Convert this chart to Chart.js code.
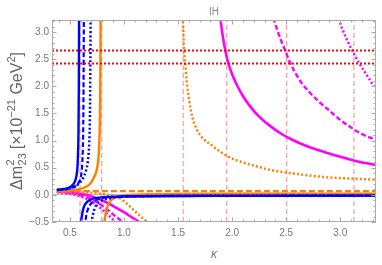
<!DOCTYPE html>
<html>
<head>
<meta charset="utf-8">
<script src="https://cdn.jsdelivr.net/npm/chart.js@4.4.1/dist/chart.umd.min.js"></script>
<style>
  html, body { margin: 0; padding: 0; background: #fff; }
  #wrap { width: 382px; height: 265px; }
</style>
</head>
<body>
<div id="wrap"><canvas id="chart" width="382" height="265"></canvas></div>
<script>
(function () {
  'use strict';

  const X_MIN = 0.335, X_MAX = 3.33, Y_MIN = -0.5, Y_MAX = 3.22;
  const xTicks = [0.5, 1.0, 1.5, 2.0, 2.5, 3.0];
  const yTicks = [-0.5, 0.0, 0.5, 1.0, 1.5, 2.0, 2.5, 3.0];
  const redLevels = [2.42, 2.66];
  const pinkKappas = [0.594, 0.794, 1.548, 1.95, 2.504, 3.126];

  // curves as [kappa, value] pairs
  const blueSolidUp = [[0.38,0.09],[0.45,0.11],[0.50,0.14],[0.53,0.19],[0.55,0.26],[0.56,0.34],[0.57,0.50],[0.575,0.72],[0.58,1.2],[0.583,2.0],[0.586,3.6]];
  const blueSolidLow = [[0.600,-0.6],[0.604,-0.5],[0.615,-0.34],[0.63,-0.22],[0.66,-0.13],[0.70,-0.08],[0.75,-0.055],[0.80,-0.045],[0.90,-0.035],[1.0,-0.03],[1.5,-0.02],[2.0,-0.018],[3.33,-0.015]];
  const blueDashedUp = [[0.38,0.09],[0.45,0.10],[0.50,0.12],[0.55,0.16],[0.58,0.22],[0.60,0.32],[0.61,0.45],[0.615,0.6],[0.62,0.85],[0.624,1.3],[0.627,2.2],[0.63,3.6]];
  const blueDashedLow = [[0.638,-0.6],[0.643,-0.5],[0.655,-0.35],[0.67,-0.25],[0.70,-0.15],[0.75,-0.09],[0.80,-0.06],[0.90,-0.04],[1.0,-0.03],[1.5,-0.02],[3.33,-0.015]];
  const blueDottedUp = [[0.38,0.09],[0.45,0.10],[0.50,0.12],[0.55,0.15],[0.58,0.20],[0.62,0.30],[0.65,0.45],[0.665,0.6],[0.675,0.8],[0.682,1.1],[0.687,1.7],[0.690,2.6],[0.693,3.6]];
  const blueDottedLow = [[0.697,-0.6],[0.702,-0.5],[0.715,-0.35],[0.73,-0.25],[0.76,-0.15],[0.80,-0.10],[0.85,-0.07],[0.90,-0.05],[1.0,-0.035],[1.5,-0.02],[3.33,-0.015]];

  const orangeSolidUp = [[0.38,0.07],[0.50,0.08],[0.60,0.11],[0.65,0.15],[0.68,0.19],[0.70,0.24],[0.72,0.31],[0.74,0.40],[0.755,0.52],[0.765,0.70],[0.772,0.95],[0.778,1.4],[0.782,2.2],[0.785,3.6]];
  const orangeSolidLow = [[0.815,-0.6],[0.82,-0.5],[0.83,-0.35],[0.85,-0.2],[0.88,-0.1],[0.92,-0.05],[0.97,-0.02],[1.05,0.0],[1.2,0.01],[1.5,0.015],[2.0,0.02],[3.33,0.02]];
  const orangeDashed = [[0.38,0.07],[1.0,0.07],[2.0,0.07],[3.33,0.07]];
  const orangeDottedUp = [[1.54,3.5],[1.545,3.22],[1.556,2.66],[1.567,2.42],[1.58,2.1],[1.60,1.78],[1.63,1.45],[1.67,1.22],[1.72,1.06],[1.80,0.93],[1.88,0.81],[1.95,0.72],[2.05,0.63],[2.2,0.54],[2.35,0.46],[2.5,0.41],[2.7,0.36],[2.9,0.32],[3.1,0.30],[3.33,0.28]];
  const orangeDottedLow = [[0.38,0.06],[0.60,0.05],[0.75,0.03],[0.85,0.0],[0.92,-0.03],[0.96,-0.06],[1.02,-0.15],[1.09,-0.28],[1.15,-0.39],[1.21,-0.5],[1.23,-0.55]];

  const magentaSolidUp = [[1.885,3.35],[1.895,3.2],[1.91,2.97],[1.935,2.68],[1.96,2.46],[2.0,2.22],[2.05,2.0],[2.1,1.82],[2.17,1.62],[2.25,1.44],[2.35,1.27],[2.45,1.13],[2.55,1.02],[2.7,0.89],[2.85,0.79],[3.0,0.70],[3.15,0.62],[3.33,0.55]];
  const magentaSolidLow = [[0.38,0.07],[0.55,0.04],[0.65,0.0],[0.75,-0.06],[0.85,-0.15],[0.93,-0.24],[1.0,-0.32],[1.07,-0.41],[1.14,-0.5],[1.17,-0.55]];
  const magentaDashedUp = [[2.375,3.4],[2.39,3.22],[2.42,3.02],[2.455,2.83],[2.49,2.66],[2.53,2.46],[2.58,2.26],[2.65,2.04],[2.72,1.88],[2.8,1.72],[2.9,1.55],[3.0,1.38],[3.1,1.24],[3.2,1.12],[3.33,1.01]];
  const magentaDashedLow = [[0.38,0.06],[0.55,0.02],[0.65,-0.04],[0.72,-0.10],[0.80,-0.20],[0.87,-0.31],[0.93,-0.41],[0.99,-0.5],[1.02,-0.55]];
  const magentaDottedUp = [[2.98,3.4],[2.993,3.22],[3.03,3.0],[3.07,2.82],[3.11,2.66],[3.17,2.44],[3.24,2.22],[3.31,2.0]];
  const magentaDottedLow = [[0.38,0.05],[0.55,0.0],[0.65,-0.07],[0.72,-0.15],[0.80,-0.27],[0.86,-0.38],[0.92,-0.5],[0.94,-0.55]];

  const BLUE = '#0000ff', ORANGE = '#ff8000', MAGENTA = '#ff00ff';
  const SOLID = [], DASHED = [5, 2.5], DOTTED = [2, 2.2];
  const FONT = 'Liberation Sans, Arial, DejaVu Sans, sans-serif';

  const toPts = (arr) => arr.map(([x, y]) => ({ x, y }));

  function curve(arr, color, dash, width) {
    return {
      data: toPts(arr),
      borderColor: color,
      borderWidth: width,
      borderDash: dash,
      showLine: true,
      pointRadius: 0,
      cubicInterpolationMode: 'monotone',
      order: 1,
    };
  }

  const datasets = [
    curve(blueSolidUp, BLUE, SOLID, 2.4),
    curve(blueSolidLow, BLUE, SOLID, 2.4),
    curve(blueDashedUp, BLUE, DASHED, 2.2),
    curve(blueDashedLow, BLUE, DASHED, 2.2),
    curve(blueDottedUp, BLUE, DOTTED, 2.5),
    curve(blueDottedLow, BLUE, DOTTED, 2.5),
    curve(orangeSolidUp, ORANGE, SOLID, 2.4),
    curve(orangeSolidLow, ORANGE, SOLID, 2.4),
    curve(orangeDashed, ORANGE, [6, 3], 2.2),
    curve(orangeDottedUp, ORANGE, DOTTED, 2.5),
    curve(orangeDottedLow, ORANGE, DOTTED, 2.5),
    curve(magentaSolidUp, MAGENTA, SOLID, 2.6),
    curve(magentaSolidLow, MAGENTA, SOLID, 2.6),
    curve(magentaDashedUp, MAGENTA, DASHED, 2.4),
    curve(magentaDashedLow, MAGENTA, DASHED, 2.4),
    curve(magentaDottedUp, MAGENTA, DOTTED, 2.5),
    curve(magentaDottedLow, MAGENTA, DOTTED, 2.5),
  ];

  redLevels.forEach((v) => {
    datasets.push({
      data: [{ x: X_MIN, y: v }, { x: X_MAX, y: v }],
      borderColor: '#ff0000', borderWidth: 2, borderDash: [2, 2],
      showLine: true, pointRadius: 0, order: 0,
    });
  });
  pinkKappas.forEach((k) => {
    datasets.push({
      data: [{ x: k, y: Y_MIN }, { x: k, y: Y_MAX }],
      borderColor: 'rgba(240,90,90,0.55)', borderWidth: 1.3, borderDash: [5, 3],
      showLine: true, pointRadius: 0, order: 2,
    });
  });

  // Mathematica-style frame with inward ticks on all four sides
  const frameTicks = {
    id: 'frameTicks',
    afterDatasetsDraw(chart) {
      const { ctx, chartArea: a, scales: { x, y } } = chart;
      ctx.save();
      ctx.strokeStyle = '#aaa';
      ctx.lineWidth = 1;
      ctx.strokeRect(a.left + 0.5, a.top + 0.5, a.right - a.left - 1, a.bottom - a.top - 1);
      ctx.beginPath();
      for (let i = Math.ceil(X_MIN * 10); i <= Math.floor(X_MAX * 10); i++) {
        const px = Math.round(x.getPixelForValue(i / 10)) + 0.5;
        const len = i % 5 === 0 ? 4.5 : 2.5;
        ctx.moveTo(px, a.bottom); ctx.lineTo(px, a.bottom - len);
        ctx.moveTo(px, a.top); ctx.lineTo(px, a.top + len);
      }
      for (let i = Math.ceil(Y_MIN * 10); i <= Math.floor(Y_MAX * 10); i++) {
        const py = Math.round(y.getPixelForValue(i / 10)) + 0.5;
        const len = i % 5 === 0 ? 4.5 : 2.5;
        ctx.moveTo(a.left, py); ctx.lineTo(a.left + len, py);
        ctx.moveTo(a.right, py); ctx.lineTo(a.right - len, py);
      }
      ctx.stroke();
      ctx.restore();
    },
  };

  // rotated y title with real super/subscripts
  const yTitle = {
    id: 'yTitle',
    afterDraw(chart) {
      const { ctx, chartArea: a } = chart;
      const MAIN = 16, SCRIPT = 11;
      const parts = [
        { t: 'Δm', size: MAIN, dy: 0 },
        { sup: '2', sub: '23' },
        { t: ' [×10', size: MAIN, dy: 0 },
        { t: '−21', size: SCRIPT, dy: -6.5 },
        { t: ' GeV', size: MAIN, dy: 0 },
        { t: '2', size: SCRIPT, dy: -6.5 },
        { t: ']', size: MAIN, dy: 0 },
      ];
      const setFont = (s) => { ctx.font = s + 'px ' + FONT; };
      const widthOf = (p) => {
        if (p.sup !== undefined) {
          setFont(SCRIPT);
          return Math.max(ctx.measureText(p.sup).width, ctx.measureText(p.sub).width);
        }
        setFont(p.size);
        return ctx.measureText(p.t).width;
      };
      const total = parts.reduce((s, p) => s + widthOf(p), 0);
      ctx.save();
      ctx.translate(16, (a.top + a.bottom) / 2);
      ctx.rotate(-Math.PI / 2);
      ctx.fillStyle = '#666';
      ctx.textBaseline = 'alphabetic';
      ctx.textAlign = 'left';
      let cx = -total / 2;
      const base = 5.5;
      parts.forEach((p) => {
        const w = widthOf(p);
        if (p.sup !== undefined) {
          setFont(SCRIPT);
          ctx.fillText(p.sup, cx + 0.5, base - 7.5);
          ctx.fillText(p.sub, cx + 0.5, base + 4);
        } else {
          setFont(p.size);
          ctx.fillText(p.t, cx, base + p.dy);
        }
        cx += w;
      });
      ctx.restore();
    },
  };

  new Chart(document.getElementById('chart'), {
    type: 'scatter',
    data: { datasets },
    plugins: [frameTicks, yTitle],
    options: {
      responsive: false,
      animation: false,
      layout: { padding: { left: 0, right: 6, top: 0, bottom: 0 } },
      plugins: {
        legend: { display: false },
        tooltip: { enabled: false },
        title: {
          display: true,
          text: 'IH',
          fullSize: false,
          color: '#888',
          font: { family: FONT, size: 10, weight: 'normal' },
          padding: { top: 6, bottom: 2 },
        },
      },
      scales: {
        x: {
          type: 'linear',
          min: X_MIN,
          max: X_MAX,
          afterBuildTicks: (s) => { s.ticks = xTicks.map((v) => ({ value: v })); },
          afterFit: (s) => { s.height = 43; },
          grid: { display: false, drawTicks: false },
          border: { display: false },
          ticks: {
            color: '#777', padding: 5, maxRotation: 0, autoSkip: false,
            font: { family: FONT, size: 10 },
            callback: (v) => Number(v).toFixed(1),
          },
          title: {
            display: true, text: 'κ', color: '#777',
            font: { family: FONT, size: 12, style: 'italic' },
            padding: { top: 0, bottom: 3 },
          },
        },
        y: {
          type: 'linear',
          min: Y_MIN,
          max: Y_MAX,
          afterBuildTicks: (s) => { s.ticks = yTicks.map((v) => ({ value: v })); },
          afterFit: (s) => { s.width = 52; },
          grid: {
            drawTicks: false,
            color: (c) => (c.tick && c.tick.value === 0 ? '#bbb' : 'rgba(0,0,0,0)'),
            lineWidth: 1,
          },
          border: { display: false },
          ticks: {
            color: '#777', padding: 3, autoSkip: false,
            font: { family: FONT, size: 10 },
            callback: (v) => Number(v).toFixed(1).replace('-', '\u2212'),
          },
          title: { display: false },
        },
      },
    },
  });
})();
</script>
</body>
</html>
